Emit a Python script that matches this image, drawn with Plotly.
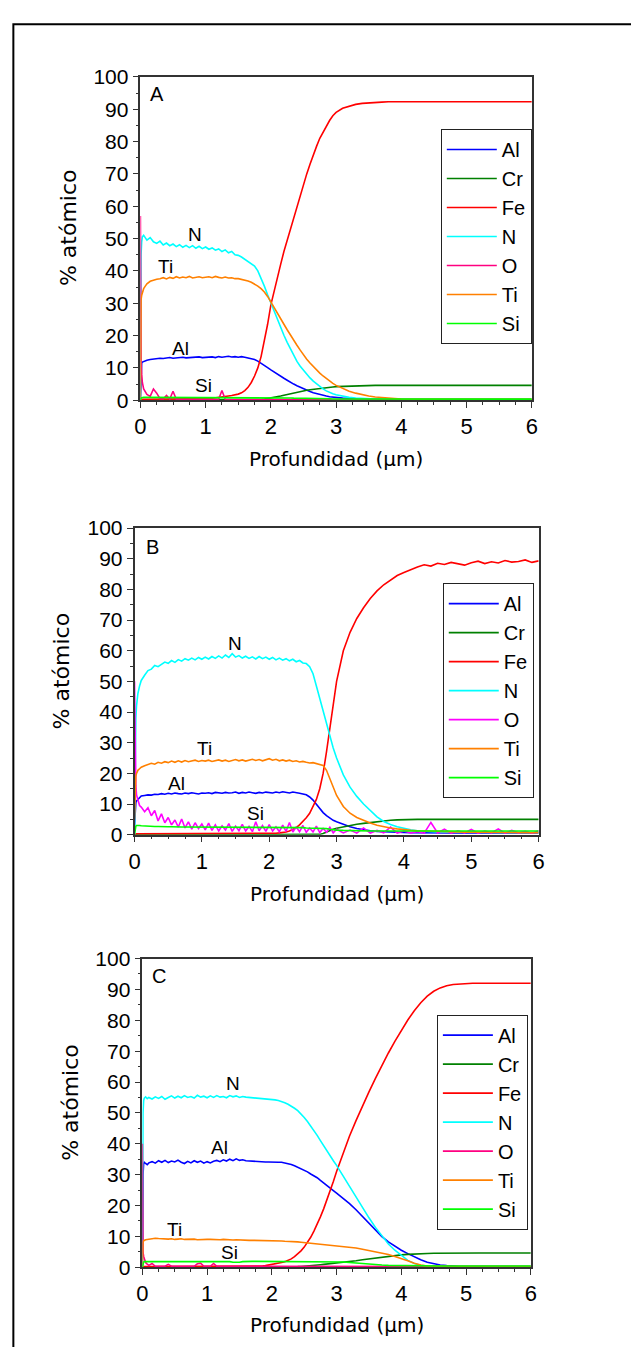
import plotly.graph_objects as go

# ---------------- data ----------------
DEPTH = [0, 0.005, 0.01, 0.02, 0.03, 0.05, 0.075, 0.1,
         0.15, 0.2, 0.25, 0.3, 0.35, 0.4, 0.45, 0.5, 0.55, 0.6, 0.65, 0.7, 0.75, 0.8, 0.85, 0.9, 0.95, 1.0,
         1.05, 1.1, 1.15, 1.2, 1.25, 1.3, 1.35, 1.4, 1.45, 1.5, 1.55, 1.6, 1.65, 1.7, 1.75, 1.8, 1.85, 1.9, 1.95, 2.0,
         2.05, 2.1, 2.15, 2.2, 2.25, 2.3, 2.35, 2.4, 2.45, 2.5, 2.55, 2.6, 2.65, 2.7, 2.75, 2.8, 2.85, 2.9, 2.95, 3.0,
         3.1, 3.2, 3.3, 3.4, 3.5, 3.6, 3.7, 3.8, 3.9, 4.0, 4.1, 4.2, 4.3, 4.4, 4.5, 4.6, 4.7, 4.8, 4.9, 5.0,
         5.1, 5.2, 5.3, 5.4, 5.5, 5.6, 5.7, 5.8, 5.9, 6.0]

ELEMENTS = ["Al", "Cr", "Fe", "N", "O", "Ti", "Si"]
X_TICKS = [0, 1, 2, 3, 4, 5, 6]
Y_TICKS = [0, 10, 20, 30, 40, 50, 60, 70, 80, 90, 100]

# ---- Panel A ----
A_AL = [0, 6, 10.5, 11.5, 11.8, 12.0, 12.3, 12.4,
        12.6, 12.8, 12.9, 13.0, 12.9, 13.1, 13.2, 13.0, 13.1, 13.2, 13.3, 13.1, 13.2, 13.3, 13.2, 13.4, 13.2, 13.3,
        13.3, 13.4, 13.2, 13.5, 13.3, 13.4, 13.6, 13.4, 13.5, 13.3, 13.5, 13.3, 13.1, 12.9, 12.6, 12.1, 11.5, 10.8, 10.1, 9.4,
        8.7, 8.0, 7.4, 6.8, 6.2, 5.5, 5.0, 4.5, 4.0, 3.5, 3.1, 2.7, 2.3, 2.0, 1.7, 1.5, 1.3, 1.1, 0.95, 0.85,
        0.65, 0.5, 0.4, 0.3, 0.25, 0.2, 0.2, 0.15, 0.15, 0.1, 0.1, 0.1, 0.1, 0.1, 0.1, 0.1, 0.1, 0.1, 0.1, 0.1,
        0.1, 0.1, 0.1, 0.1, 0.1, 0.1, 0.1, 0.1, 0.1, 0.1]
A_CR = [0, 0, 0, 0, 0, 0, 0, 0,
        0, 0, 0, 0, 0, 0, 0, 0, 0, 0, 0, 0, 0, 0, 0, 0, 0, 0,
        0, 0, 0, 0, 0, 0, 0, 0, 0, 0, 0, 0, 0, 0, 0.05, 0.1, 0.2, 0.35, 0.5, 0.7,
        0.9, 1.1, 1.3, 1.55, 1.8, 2.05, 2.3, 2.5, 2.7, 2.9, 3.1, 3.25, 3.4, 3.55, 3.7, 3.8, 3.9, 4.0, 4.1, 4.2,
        4.3, 4.4, 4.45, 4.5, 4.55, 4.6, 4.6, 4.6, 4.6, 4.6, 4.6, 4.6, 4.6, 4.6, 4.6, 4.6, 4.6, 4.6, 4.6, 4.6,
        4.6, 4.6, 4.6, 4.6, 4.6, 4.6, 4.6, 4.6, 4.6, 4.6]
A_FE = [0, 0.1, 0.2, 0.3, 0.3, 0.3, 0.3, 0.3,
        0.3, 0.3, 0.3, 0.3, 0.3, 0.3, 0.3, 0.3, 0.3, 0.3, 0.3, 0.3, 0.4, 0.4, 0.4, 0.4, 0.4, 0.4,
        0.5, 0.6, 0.7, 0.8, 0.95, 1.1, 1.3, 1.45, 1.6, 1.9, 2.3, 3.0, 4.0, 5.5, 7.5, 10.0, 13.5, 18.0, 23.5, 29.5,
        34, 38, 42, 46, 49.5, 53, 56.5, 60, 63.5, 67, 70, 73, 76, 78.5, 81, 83, 85, 86.5, 88, 89,
        90.3, 91.0, 91.5, 91.8, 92.0, 92.1, 92.2, 92.3, 92.3, 92.2, 92.3, 92.4, 92.3, 92.3, 92.2, 92.3, 92.3, 92.2, 92.3, 92.4,
        92.3, 92.4, 92.3, 92.3, 92.2, 92.3, 92.3, 92.3, 92.4, 92.3]
A_N = [0, 30, 45, 49, 50.5, 51, 50.2, 49.5,
       50.3, 49.0, 48.5, 49.2, 48.0, 48.6, 47.8, 48.3, 47.5, 48.1, 47.3, 47.9, 47.2, 47.8, 47.0, 47.6, 46.9, 47.4,
       46.7, 47.1, 46.4, 46.8, 46.0, 46.5, 45.6, 46.0, 45.0, 44.8, 44.3, 43.6, 43.0, 42.3, 41.5, 40.0, 37.8, 35.3, 32.6, 30.0,
       27.3, 24.8, 22.4, 20.1, 17.9, 15.8, 13.8, 12.0, 10.5, 9.2, 8.0, 6.9, 5.9, 5.0, 4.2, 3.5, 2.9, 2.4, 2.0, 1.7,
       1.2, 0.9, 0.7, 0.55, 0.45, 0.4, 0.35, 0.3, 0.3, 0.3, 0.3, 0.3, 0.3, 0.3, 0.3, 0.3, 0.3, 0.3, 0.3, 0.3,
       0.3, 0.3, 0.3, 0.3, 0.3, 0.3, 0.3, 0.3, 0.3, 0.3]
A_O = [57, 20, 12, 8, 5.5, 3.5, 2.5, 1.8,
       1.2, 3.5, 2.2, 0.5, 0.4, 1.5, 0.4, 2.8, 0.3, 0.3, 0.3, 0.3, 0.3, 0.3, 0.3, 0.3, 0.3, 0.3,
       0.3, 0.3, 0.3, 0.3, 3.0, 0.3, 0.2, 0.2, 0.2, 0.2, 0.2, 0.2, 0.2, 0.2, 0.2, 0.2, 0.2, 0.2, 0.2, 0.2,
       0.2, 0.2, 0.2, 0.2, 0.2, 0.2, 0.2, 0.2, 0.2, 0.2, 0.2, 0.2, 0.2, 0.2, 0.2, 0.2, 0.2, 0.2, 0.2, 0.2,
       0.2, 0.2, 0.2, 0.2, 0.2, 0.2, 0.2, 0.2, 0.2, 0.2, 0.2, 0.2, 0.2, 0.2, 0.2, 0.2, 0.2, 0.2, 0.2, 0.2,
       0.2, 0.2, 0.2, 0.2, 0.2, 0.2, 0.2, 0.2, 0.2, 0.2]
A_TI = [0, 28, 31, 32.5, 33.5, 34.5, 35.3, 36,
        36.8, 37.2, 37.4, 37.6, 37.9, 37.5, 38.0, 37.7, 38.2, 37.8, 38.1, 37.9, 38.3, 37.8, 38.0, 38.2, 37.9, 38.1,
        38.2, 37.9, 38.3, 38.0, 37.8, 38.1, 37.8, 37.9, 37.6, 37.6, 37.4, 37.2, 36.9, 36.5, 36.0, 35.3, 34.5, 33.5, 32.1, 30.3,
        28.8, 27.0, 25.2, 23.5, 21.8, 20.1, 18.5, 17.0, 15.5, 14.0, 12.7, 11.5, 10.4, 9.4, 8.4, 7.5, 6.7, 5.9, 5.2, 4.6,
        3.6, 2.8, 2.2, 1.7, 1.3, 1.0, 0.8, 0.6, 0.5, 0.4, 0.3, 0.3, 0.3, 0.3, 0.3, 0.3, 0.3, 0.3, 0.3, 0.3,
        0.3, 0.3, 0.3, 0.3, 0.3, 0.3, 0.3, 0.3, 0.3, 0.3]
A_SI = [0, 0.5, 0.7, 0.8, 0.9, 0.9, 0.9, 0.9,
        0.9, 0.9, 0.9, 0.9, 0.9, 0.9, 0.9, 0.9, 0.9, 0.9, 0.9, 0.9, 0.9, 0.9, 0.9, 0.9, 0.9, 0.9,
        0.8, 0.8, 0.8, 0.8, 0.8, 0.8, 0.8, 0.8, 0.8, 0.8, 0.8, 0.8, 0.8, 0.8, 0.8, 0.8, 0.8, 0.8, 0.8, 0.8,
        0.8, 0.8, 0.75, 0.75, 0.7, 0.7, 0.65, 0.65, 0.6, 0.6, 0.55, 0.55, 0.5, 0.5, 0.5, 0.45, 0.45, 0.45, 0.4, 0.4,
        0.4, 0.4, 0.4, 0.4, 0.4, 0.4, 0.4, 0.4, 0.4, 0.4, 0.35, 0.35, 0.35, 0.35, 0.35, 0.35, 0.35, 0.35, 0.35, 0.35,
        0.35, 0.35, 0.35, 0.35, 0.35, 0.35, 0.35, 0.35, 0.35, 0.35]

# ---- Panel B ----
B_AL = [3, 6, 9, 10.5, 11, 11.5, 12.2, 12.6,
        12.8, 13.0, 12.9, 13.2, 13.1, 13.4, 13.2, 13.5, 13.3, 13.6, 13.4, 13.3, 13.6, 13.4, 13.7, 13.5, 13.3, 13.6,
        13.5, 13.7, 13.4, 13.8, 13.6, 13.5, 13.8, 13.6, 13.7, 13.9, 13.5, 13.8, 13.6, 13.9, 13.7, 13.5, 13.8, 13.6, 13.9, 13.7,
        13.6, 13.9, 13.7, 14.0, 13.8, 13.6, 13.9, 13.8, 13.5, 13.3, 13.0, 12.3, 11.3, 9.9, 8.5, 7.2, 6.2, 5.4, 4.7, 4.2,
        3.3, 2.6, 2.0, 1.6, 1.3, 1.1, 0.95, 0.85, 0.75, 0.7, 0.65, 0.6, 0.6, 0.55, 0.55, 0.55, 0.55, 0.55, 0.55, 0.55,
        0.55, 0.55, 0.55, 0.55, 0.55, 0.55, 0.55, 0.55, 0.55, 0.55]
B_CR = [0, 0, 0, 0, 0, 0, 0, 0,
        0, 0, 0, 0, 0, 0, 0, 0, 0, 0, 0, 0, 0, 0, 0, 0, 0, 0,
        0, 0, 0, 0, 0, 0, 0, 0, 0, 0, 0, 0, 0, 0, 0, 0, 0, 0, 0, 0,
        0, 0, 0, 0, 0, 0, 0, 0, 0, 0, 0, 0, 0, 0, 0.1, 0.4, 0.9, 1.4, 1.8, 2.1,
        2.6, 3.0, 3.4, 3.7, 4.0, 4.3, 4.5, 4.7, 4.85, 4.95, 5.0, 5.0, 5.0, 5.0, 5.0, 5.0, 5.0, 5.0, 5.0, 5.0,
        5.0, 5.0, 5.0, 5.0, 5.0, 5.0, 5.0, 5.0, 5.0, 5.0]
B_FE = [0, 0.1, 0.2, 0.3, 0.3, 0.3, 0.3, 0.3,
        0.3, 0.3, 0.3, 0.3, 0.3, 0.3, 0.3, 0.3, 0.3, 0.3, 0.3, 0.3, 0.3, 0.3, 0.3, 0.3, 0.3, 0.3,
        0.3, 0.3, 0.3, 0.3, 0.3, 0.3, 0.3, 0.3, 0.3, 0.3, 0.4, 0.4, 0.4, 0.4, 0.4, 0.4, 0.4, 0.4, 0.4, 0.4,
        0.5, 0.5, 0.6, 0.7, 0.9, 1.2, 1.7, 2.3, 3.2, 4.2, 5.5, 7.0, 9.0, 11.5, 15, 20, 27, 35, 43, 50,
        60, 66, 70.5, 74, 77, 79.5, 81.5, 83, 84.5, 85.5, 86.5, 87.3, 88, 87.6, 88.5, 88.1, 88.8, 88.3, 87.9, 88.7,
        89.2, 88.4, 89.0, 88.6, 89.4, 88.9, 89.1, 89.6, 88.8, 89.3]
B_N = [0, 18, 28, 38, 42, 46, 48.5, 50.3,
       52.0, 53.5, 54.0, 55.2, 54.8, 55.6, 56.3, 55.9, 56.8, 56.2, 57.1, 56.6, 57.4, 56.9, 57.6, 57.0, 57.8, 57.2,
       57.9, 57.3, 58.1, 57.5, 58.3, 57.6, 58.6, 57.8, 59.0, 57.9, 58.4, 57.6, 58.2, 57.5, 58.0, 57.3, 58.1, 57.4, 57.9, 57.2,
       57.8, 57.0, 57.6, 56.9, 57.4, 56.7, 57.2, 56.4, 56.8, 56.0, 55.8, 54.8, 52.5, 48.5, 44.5, 40.5, 36.0, 32.0, 28.3, 25.0,
       19.5, 15.5, 12.5, 10.0, 7.8, 5.8, 4.3, 3.3, 2.6, 2.0, 1.6, 1.3, 1.1, 1.0, 0.9, 0.9, 0.85, 0.8, 0.8, 0.8,
       0.75, 0.75, 0.75, 0.7, 0.7, 0.7, 0.7, 0.7, 0.7, 0.7]
B_O = [50, 35, 25, 16, 13, 11, 9.5, 9,
       7.5, 8.8, 6.2, 7.9, 4.5, 6.8, 3.9, 5.6, 3.2, 4.8, 2.5, 5.1, 2.2, 4.2, 1.8, 3.9, 2.0, 3.5,
       1.6, 3.8, 1.4, 3.2, 1.2, 2.9, 1.5, 3.6, 1.1, 2.8, 1.3, 3.4, 1.2, 2.7, 1.0, 4.2, 1.3, 3.0, 1.1, 3.3,
       1.2, 2.6, 1.0, 3.1, 1.1, 4.0, 0.9, 2.5, 1.0, 3.0, 0.8, 2.2, 0.9, 2.8, 0.7, 2.0, 0.8, 2.4, 0.6, 1.8,
       0.6, 1.5, 0.5, 2.2, 0.5, 1.4, 0.6, 2.5, 0.5, 1.2, 0.6, 1.0, 0.5, 4.0, 0.6, 1.8, 0.5, 1.3, 0.6, 1.7,
       0.5, 1.2, 0.6, 1.9, 0.5, 1.4, 0.6, 1.1, 0.5, 1.3]
B_TI = [5, 12, 16, 19, 20, 21, 21.5, 22,
        22.5, 23.0, 23.3, 23.0, 23.6, 23.3, 23.8, 23.5, 24.0, 23.6, 24.1, 23.7, 24.2, 23.8, 24.0, 24.3, 23.9, 24.2,
        24.0, 24.3, 23.9, 24.2, 24.4, 24.0, 24.3, 23.9, 24.2, 24.5, 24.1, 24.4, 24.0, 24.3, 24.6, 24.2, 24.5, 24.1, 24.4, 24.8,
        24.3, 24.6, 24.1, 24.4, 24.0, 24.3, 23.9, 24.1, 23.7, 23.9, 23.6, 23.4, 23.5, 23.2, 23.0, 22.6, 21.0, 18.3, 15.5, 12.8,
        9.2, 7.0, 5.6, 4.6, 3.8, 3.1, 2.6, 2.2, 1.9, 1.6, 1.45, 1.3, 1.2, 1.1, 1.05, 1.0, 0.95, 0.9, 0.85, 0.85,
        0.8, 0.8, 0.75, 0.75, 0.7, 0.7, 0.7, 0.65, 0.65, 0.65]
B_SI = [0, 1.5, 2.3, 2.8, 3.0, 3.1, 3.0, 2.9,
        2.8, 2.8, 2.7, 2.7, 2.7, 2.6, 2.6, 2.6, 2.6, 2.5, 2.5, 2.5, 2.5, 2.5, 2.5, 2.4, 2.4, 2.4,
        2.4, 2.4, 2.4, 2.4, 2.4, 2.4, 2.4, 2.4, 2.4, 2.4, 2.3, 2.3, 2.3, 2.3, 2.3, 2.3, 2.3, 2.3, 2.3, 2.3,
        2.3, 2.3, 2.3, 2.3, 2.3, 2.3, 2.3, 2.3, 2.3, 2.3, 2.2, 2.2, 2.2, 2.2, 2.2, 2.1, 2.0, 1.8, 1.6, 1.5,
        1.4, 1.3, 1.3, 1.2, 1.2, 1.2, 1.2, 1.2, 1.2, 1.2, 1.2, 1.2, 1.2, 1.2, 1.2, 1.2, 1.2, 1.2, 1.2, 1.2,
        1.2, 1.2, 1.2, 1.2, 1.2, 1.2, 1.2, 1.2, 1.2, 1.2]

# ---- Panel C ----
C_AL = [0, 20, 30, 33.5, 34, 33.6, 33.2, 33.8,
        34.2, 33.7, 34.5, 34.0, 34.6, 33.9, 34.4, 34.1, 34.7, 34.0, 33.6, 34.3, 33.8, 34.5, 34.0, 34.4, 33.7, 34.2,
        33.8, 34.3, 34.6, 34.2, 34.8, 34.4, 35.0, 34.5, 35.1, 34.6, 34.8, 34.5, 34.4, 34.3, 34.3, 34.2, 34.2, 34.1, 34.1, 34.0,
        34.0, 34.0, 34.0, 33.8, 33.6, 33.3, 32.9, 32.4, 32.0, 31.5, 30.9, 30.2, 29.6, 29.0, 28.1, 27.2, 26.4, 25.5, 24.8, 24.0,
        22.4, 20.6, 18.6, 16.4, 14.1, 11.9, 9.9, 8.2, 6.8, 5.5, 4.4, 3.3, 2.4, 1.6, 1.1, 0.7, 0.5, 0.3, 0.25, 0.2,
        0.2, 0.2, 0.2, 0.2, 0.2, 0.2, 0.2, 0.2, 0.2, 0.2]
C_CR = [0, 0, 0, 0, 0, 0, 0, 0,
        0, 0, 0, 0, 0, 0, 0, 0, 0, 0, 0, 0, 0, 0, 0, 0, 0, 0,
        0, 0, 0, 0, 0, 0, 0, 0, 0, 0, 0, 0, 0, 0, 0, 0, 0, 0, 0, 0,
        0, 0, 0, 0, 0.05, 0.1, 0.15, 0.2, 0.25, 0.3, 0.4, 0.5, 0.6, 0.7, 0.8, 0.9, 1.0, 1.1, 1.2, 1.3,
        1.5, 1.8, 2.1, 2.4, 2.7, 3.0, 3.3, 3.55, 3.8, 4.0, 4.15, 4.3, 4.4, 4.45, 4.5, 4.55, 4.55, 4.6, 4.6, 4.6,
        4.6, 4.6, 4.6, 4.6, 4.6, 4.6, 4.6, 4.6, 4.6, 4.6]
C_FE = [0, 0.1, 0.1, 0.2, 0.2, 0.2, 0.2, 0.2,
        0.2, 0.2, 0.2, 0.2, 0.2, 0.2, 0.2, 0.2, 0.2, 0.2, 0.2, 0.2, 0.2, 0.2, 0.2, 0.2, 0.2, 0.2,
        0.2, 0.2, 0.2, 0.2, 0.2, 0.2, 0.2, 0.2, 0.2, 0.2, 0.2, 0.2, 0.2, 0.2, 0.25, 0.3, 0.4, 0.5, 0.65, 0.8,
        1.0, 1.2, 1.5, 1.8, 2.2, 2.7, 3.4, 4.3, 5.3, 6.5, 8.0, 9.7, 11.7, 13.9, 16.3, 18.9, 21.7, 24.7, 27.8, 31.0,
        37.0, 42.5, 47.5, 52.3, 56.8, 61.2, 65.4, 69.4, 73.2, 76.8, 80.1, 83.1, 85.7, 87.8, 89.4, 90.5, 91.2, 91.6, 91.8, 91.9,
        92.0, 92.0, 92.0, 92.0, 92.0, 92.0, 92.0, 92.0, 92.0, 92.0]
C_N = [0, 40, 50, 54, 54.8, 55.2, 54.6, 55.0,
       54.5, 55.2, 54.7, 55.3, 54.4, 55.0, 55.5, 54.8, 55.4, 54.9, 55.6, 55.0, 55.3, 54.8, 55.7, 55.1, 55.4, 54.9,
       55.5, 55.0, 55.6, 55.1, 55.3, 54.9, 55.6, 55.2, 55.5, 55.0, 55.3, 55.1, 55.0, 55.0, 54.9, 54.9, 54.8, 54.7, 54.6, 54.4,
       54.2, 54.0, 53.7, 53.3, 52.8, 52.2, 51.5, 50.7, 49.7, 48.5, 47.2, 45.8, 44.3, 42.7, 41.0, 39.3, 37.7, 36.1, 34.5, 33.0,
       29.6, 26.1, 22.6, 19.3, 16.0, 12.9, 10.0, 7.5, 5.5, 3.8, 2.2, 1.2, 0.6, 0.4, 0.3, 0.3, 0.25, 0.25, 0.2, 0.2,
       0.2, 0.2, 0.2, 0.2, 0.2, 0.2, 0.2, 0.2, 0.2, 0.2]
C_O = [40, 8, 5, 3.5, 2.5, 1.5, 1.0, 0.6,
       1.2, 0.3, 0.3, 0.3, 0.3, 0.9, 0.3, 0.3, 0.3, 0.3, 0.3, 0.3, 0.3, 0.3, 1.1, 1.3, 0.3, 0.3,
       0.3, 1.2, 0.3, 0.3, 0.3, 0.3, 0.3, 0.3, 0.3, 0.3, 0.3, 0.3, 0.3, 0.3, 0.3, 0.3, 0.3, 0.3, 0.3, 0.3,
       0.2, 0.2, 0.2, 0.2, 0.2, 0.2, 0.2, 0.2, 0.2, 0.2, 0.2, 0.2, 0.2, 0.2, 0.2, 0.2, 0.2, 0.2, 0.2, 0.2,
       0.2, 0.2, 0.2, 0.2, 0.2, 0.2, 0.2, 0.2, 0.2, 0.2, 0.2, 0.2, 0.2, 0.2, 0.2, 0.2, 0.2, 0.2, 0.2, 0.2,
       0.2, 0.2, 0.2, 0.2, 0.2, 0.2, 0.2, 0.2, 0.2, 0.2]
C_TI = [0, 6, 8, 8.6, 8.8, 8.9, 9.0, 9.1,
        9.2, 9.4, 9.3, 9.2, 9.3, 9.1, 9.2, 9.0, 9.1, 9.2, 9.0, 9.1, 9.0, 9.1, 8.9, 9.0, 9.1, 9.0,
        9.0, 8.9, 9.0, 8.9, 9.0, 8.9, 8.9, 8.8, 8.9, 8.8, 8.8, 8.8, 8.7, 8.7, 8.7, 8.7, 8.6, 8.6, 8.6, 8.6,
        8.5, 8.5, 8.5, 8.4, 8.4, 8.3, 8.3, 8.2, 8.1, 8.0, 7.9, 7.8, 7.7, 7.6, 7.5, 7.4, 7.3, 7.2, 7.1, 7.0,
        6.8, 6.5, 6.2, 5.8, 5.4, 5.0, 4.6, 4.1, 3.5, 2.9, 2.1, 1.3, 0.7, 0.4, 0.3, 0.25, 0.2, 0.2, 0.2, 0.2,
        0.2, 0.2, 0.2, 0.2, 0.2, 0.2, 0.2, 0.2, 0.2, 0.2]
C_SI = [0, 1.0, 1.5, 1.7, 1.8, 1.8, 1.8, 1.8,
        1.8, 1.8, 1.8, 1.8, 1.8, 1.8, 1.8, 1.8, 1.8, 1.8, 1.8, 1.8, 1.8, 1.8, 1.8, 1.8, 1.8, 1.8,
        1.8, 1.9, 1.9, 1.9, 1.9, 1.9, 1.8, 1.6, 1.5, 1.6, 1.8, 1.9, 1.9, 1.9, 1.9, 1.9, 1.9, 1.9, 1.9, 1.9,
        1.9, 1.9, 1.9, 1.9, 1.9, 1.9, 1.9, 1.9, 1.9, 1.9, 1.85, 1.85, 1.85, 1.85, 1.85, 1.85, 1.85, 1.85, 1.85, 1.85,
        1.7, 1.5, 1.3, 1.1, 0.95, 0.8, 0.7, 0.6, 0.55, 0.5, 0.45, 0.4, 0.4, 0.4, 0.4, 0.4, 0.4, 0.4, 0.4, 0.4,
        0.4, 0.4, 0.4, 0.4, 0.4, 0.4, 0.4, 0.4, 0.4, 0.4]

# curve labels: (text, depth, %)
LABELS_A = [("N", 0.84, 51.4), ("Ti", 0.39, 41.5), ("Al", 0.61, 16.0), ("Si", 0.97, 4.7)]
LABELS_B = [("N", 1.49, 62.5), ("Ti", 1.04, 28.2), ("Al", 0.63, 16.7), ("Si", 1.80, 6.8)]
LABELS_C = [("N", 1.40, 59.6), ("Al", 1.19, 38.9), ("Ti", 0.50, 12.3), ("Si", 1.35, 4.9)]
PANEL_LETTERS = [("A", 0.25, 94.7), ("B", 0.26, 93.9), ("C", 0.25, 94.3)]

# ---------------- styling / layout ----------------
W, H = 631, 1347


def fx(px):
    return px / W


def fy(py):
    return 1 - py / H


COLORS = {"Al": "#0000ff", "Cr": "#008000", "Fe": "#ff0000", "N": "#00ffff",
          "O": "#ff0080", "Ti": "#ff8000", "Si": "#00ff00"}
ARIAL = "Liberation Sans, Arial, sans-serif"
YTICK_FONT = dict(family=ARIAL, size=21, color="black")
XTICK_FONT = dict(family=ARIAL, size=22, color="black")
YTITLE_FONT = dict(family="DejaVu Sans, Verdana, sans-serif", size=22, color="black")
XTITLE_FONT = dict(family="DejaVu Sans, Verdana, sans-serif", size=20, color="black")

panels = [
    dict(ax="", data=[A_AL, A_CR, A_FE, A_N, A_O, A_TI, A_SI], labels=LABELS_A, o_color="#ff0080",
         px=(137, 536), py=(66, 395), leg_right=536, leg_top=119, ytitle=(63, 219), xtitle_y=455),
    dict(ax="2", data=[B_AL, B_CR, B_FE, B_N, B_O, B_TI, B_SI], labels=LABELS_B, o_color="#ff00ff",
         px=(131, 543), py=(525, 837), leg_right=538, leg_top=581, ytitle=(57, 670), xtitle_y=897),
    dict(ax="3", data=[C_AL, C_CR, C_FE, C_N, C_O, C_TI, C_SI], labels=LABELS_C, o_color="#ff0080",
         px=(139, 535), py=(963, 1277), leg_right=532, leg_top=1020, ytitle=(65, 1109), xtitle_y=1336),
]

fig = go.Figure()
layout = dict(width=W, height=H, margin=dict(l=0, r=0, t=0, b=0), autosize=False,
              paper_bgcolor="white", plot_bgcolor="white", showlegend=True)
annotations = []

for i, p in enumerate(panels):
    xa, ya = "x" + p["ax"], "y" + p["ax"]
    leg = "legend" + p["ax"]
    for name, vals in zip(ELEMENTS, p["data"]):
        assert len(vals) == len(DEPTH), (name, i, len(vals))
        col = p["o_color"] if name == "O" else COLORS[name]
        fig.add_trace(go.Scatter(x=DEPTH, y=vals, mode="lines", name=name,
                                 line=dict(color=col, width=1.6),
                                 xaxis=xa, yaxis=ya, legend=leg))
    x0, x1 = fx(p["px"][0]), fx(p["px"][1])
    y0, y1 = fy(p["py"][1]), fy(p["py"][0])
    axis_common = dict(showgrid=False, zeroline=False, showline=True, linecolor="#333333",
                       linewidth=1.5, mirror=True, ticks="outside", ticklen=6, tickwidth=1.3,
                       tickcolor="#333333")
    layout["xaxis" + p["ax"]] = dict(domain=[x0, x1], anchor=ya, range=[0, 6],
                                    tickmode="array", tickvals=X_TICKS, tickfont=XTICK_FONT,
                                    minor=dict(dtick=0.25, ticklen=3, tickwidth=1, ticks="outside",
                                               tickcolor="#333333"),
                                    **axis_common)
    layout["yaxis" + p["ax"]] = dict(domain=[y0, y1], anchor=xa, range=[0, 100],
                                    tickmode="array", tickvals=Y_TICKS, tickfont=YTICK_FONT,
                                    minor=dict(dtick=5, ticklen=3, tickwidth=1, ticks="outside",
                                               tickcolor="#333333"),
                                    **axis_common)
    layout[leg] = dict(x=fx(p["leg_right"]), xanchor="right", y=fy(p["leg_top"]), yanchor="top",
                       bgcolor="white", bordercolor="#222222", borderwidth=1,
                       font=dict(family=ARIAL, size=20, color="black"),
                       itemwidth=50, tracegroupgap=0)
    for txt, xv, yv in p["labels"]:
        annotations.append(dict(text=txt, x=xv, y=yv, xref=xa, yref=ya, showarrow=False,
                                xanchor="center", yanchor="middle",
                                font=dict(family=ARIAL, size=19, color="black")))
    lt, lx, ly = PANEL_LETTERS[i]
    annotations.append(dict(text=lt, x=lx, y=ly, xref=xa, yref=ya, showarrow=False,
                            xanchor="center", yanchor="middle",
                            font=dict(family=ARIAL, size=20, color="black")))
    annotations.append(dict(text="% atómico", x=fx(p["ytitle"][0]), y=fy(p["ytitle"][1]),
                            xref="paper", yref="paper", showarrow=False, textangle=-90,
                            xanchor="center", yanchor="middle", font=YTITLE_FONT))
    annotations.append(dict(text="Profundidad (μm)", x=(x0 + x1) / 2, y=fy(p["xtitle_y"]),
                            xref="paper", yref="paper", showarrow=False,
                            xanchor="center", yanchor="middle", font=XTITLE_FONT))

layout["annotations"] = annotations
layout["shapes"] = [dict(type="rect", xref="paper", yref="paper", x0=fx(7.5), x1=1.05,
                         y0=-0.05, y1=fy(12.5), line=dict(color="black", width=2))]
fig.update_layout(**layout)
fig.write_html("out.html")
